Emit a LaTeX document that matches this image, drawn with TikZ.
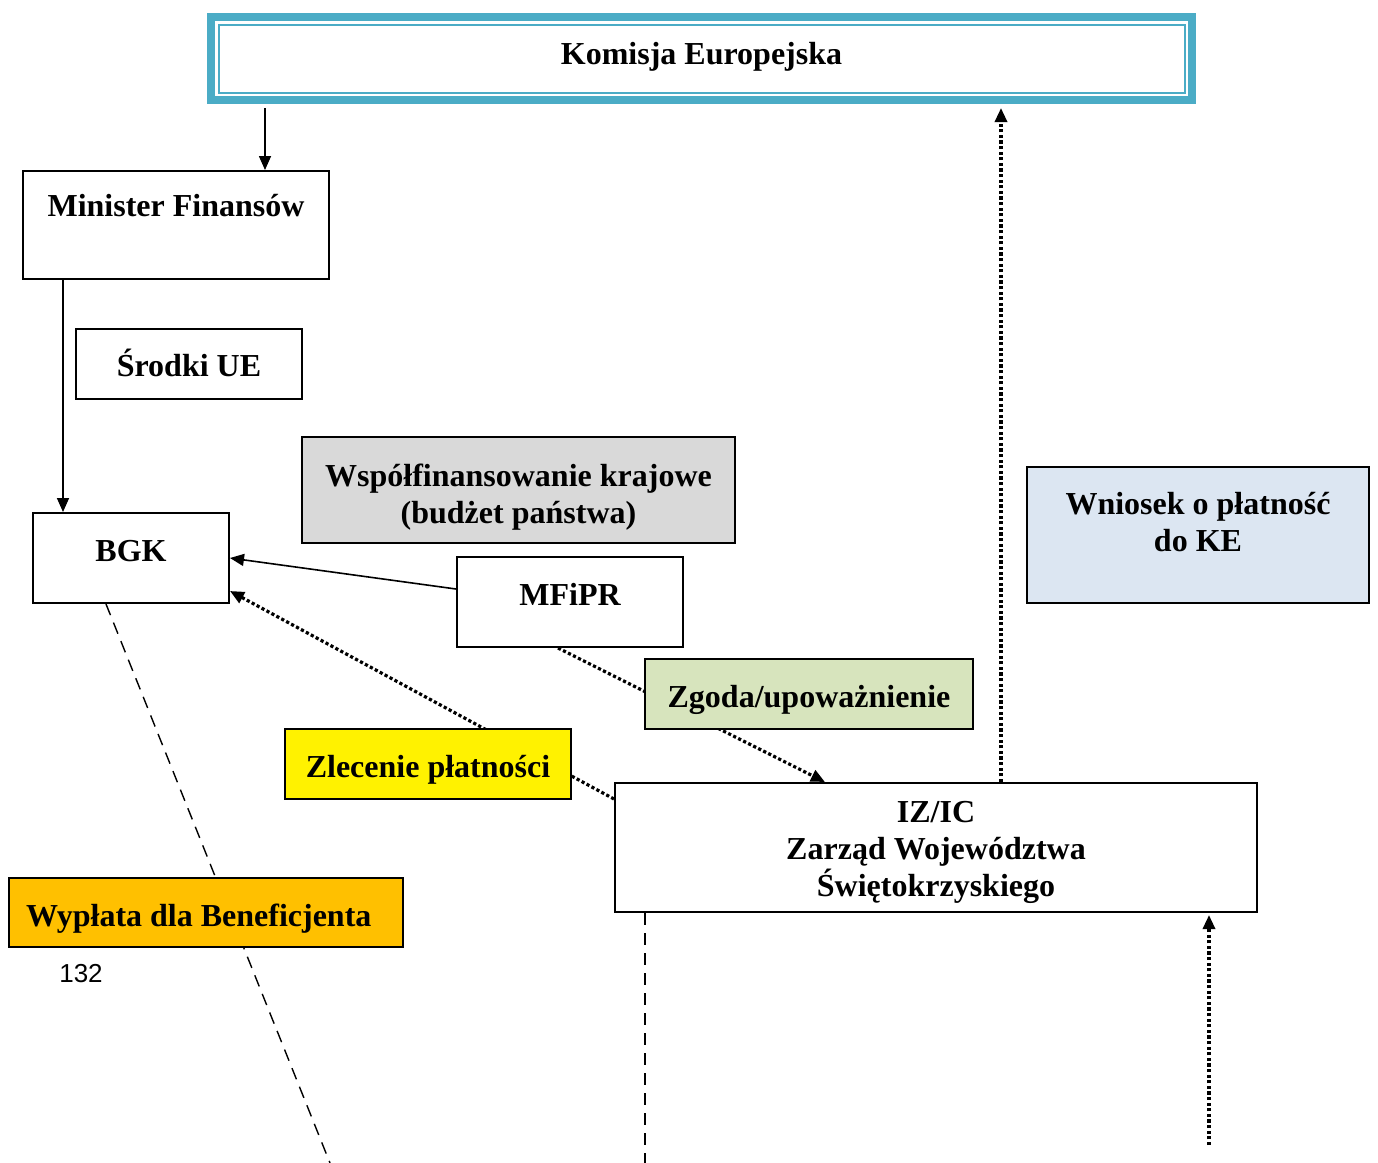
\documentclass[tikz,border=0pt]{standalone}
\usepackage{fontspec}
\setmainfont{Liberation Serif}
\newfontfamily\pagenofont{Liberation Sans}
\usepackage{xcolor}
\usepackage{tikz}
\usetikzlibrary{positioning,arrows.meta}
\definecolor{keteal}{HTML}{4BACC6}
\definecolor{wspgray}{HTML}{D9D9D9}
\definecolor{zgodagreen}{HTML}{D7E4BD}
\definecolor{wyplorange}{HTML}{FFC000}
\definecolor{wnioblue}{HTML}{DCE6F2}
\tikzset{
	box/.style={draw, rectangle, line width=1pt, inner xsep=0pt, inner ysep=0pt, align=center, font=\bfseries\fontsize{16}{18.5}\selectfont},
	dots/.style={line width=1.6pt, dash pattern=on 1.6pt off 1.2pt},
	dashes/.style={line width=0.7pt, dash pattern=on 6pt off 4pt},
}

\begin{document}
\begin{tikzpicture}[x=0.5pt, y=-0.5pt, >={Triangle[length=7pt,width=6pt]}]
		\useasboundingbox (0,0) rectangle (1378,1163);

		\node[box, draw=keteal, line width=4pt, minimum width=490.5pt, text height=23.5pt, text depth=18pt] (ke) at (701.5,58.5) {Komisja Europejska};
		\draw[keteal, line width=1pt] ([shift={(5.75pt,-5.75pt)}]ke.north west) rectangle ([shift={(-5.75pt,5.75pt)}]ke.south east);

		\node[box, minimum width=153pt, text height=22.5pt, text depth=31.5pt] (minfin) at (176,225) {Minister Finansów};
		\node[box, minimum width=113pt, text height=23.5pt, text depth=11.5pt] (srodki) at (189,364) {Środki UE};
		\node[box, fill=wspgray, minimum width=216.5pt, text height=43pt, text depth=10pt] (wspolfin) at (518.5,490) {Współfinansowanie krajowe\\(budżet państwa)};
		\node[box, minimum width=98pt, text height=24pt, text depth=21pt] (bgk) at (131,558) {BGK};
		\node[box, minimum width=113pt, text height=24pt, text depth=21pt] (mfipr) at (570,602) {MFiPR};
		\node[box, minimum width=321pt, text height=56.5pt, text depth=8pt] (izic) at (936,847.5) {IZ/IC\\Zarząd Województwa\\Świętokrzyskiego};
		\node[box, fill=wnioblue, minimum width=171pt, text height=42pt, text depth=26pt] (wniosek) at (1198,535) {Wniosek o płatność\\do KE};

		\draw[->, line width=0.8pt, shorten <=2pt] (ke.south -| 265,0) -- (minfin.north -| 265,0);
		\draw[->, line width=0.8pt] (minfin.south -| 63,0) -- (bgk.north -| 63,0);
		\draw[->, line width=0.8pt] ([yshift=6.5pt]mfipr.west) -- (bgk.east);
		\draw[->, dots] ([yshift=-8.5pt]izic.north west) -- ([yshift=6.5pt]bgk.south east);
		\draw[->, dots] ([xshift=-6pt]mfipr.south) -- (izic.north -| 825,0);
		\draw[->, dots, shorten >=2pt] (izic.north -| 1001,0) -- (ke.south -| 1001,0);

		\coordinate (wnend) at (1209,1145);
		\coordinate (izdown) at (645,1163);
		\coordinate (bgkdown) at (330,1163);
		\draw[->, dots, shorten >=1pt] (wnend) -- (izic.south -| 1209,0);
		\draw[dashes] (izic.south -| 645,0) -- (izdown);
		\draw[dashes] (bgk.south -| 106,0) -- (bgkdown);

		\node[box, fill=zgodagreen, minimum width=164pt, text height=24pt, text depth=11pt] (zgoda) at (809,694) {Zgoda/upoważnienie};
		\node[box, fill=yellow, minimum width=143pt, text height=24pt, text depth=11pt] (zlecenie) at (428,764) {Zlecenie płatności};
		\node[box, fill=wyplorange, text width=180pt, inner xsep=8.5pt, align=flush left, text height=24pt, text depth=10.5pt] (wyplata) at (206,912.5) {Wypłata dla Beneficjenta};
		\node[font=\pagenofont\fontsize{13}{15}\selectfont, inner sep=0pt] (pageno) at (81,974) {132};
	\end{tikzpicture}
\end{document}
